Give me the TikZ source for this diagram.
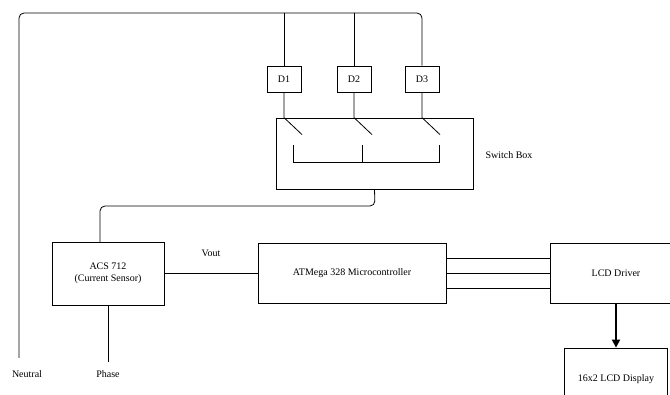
\documentclass[tikz,border=0pt]{standalone}
\usepackage{fontspec}
\setmainfont{Liberation Serif}
\usetikzlibrary{arrows.meta,positioning,calc}
\tikzset{
  blk/.style={draw, line width=0.8pt, align=center, inner sep=2pt},
  wire/.style={line width=0.8pt}
}

\begin{document}
\begin{tikzpicture}[x=1pt, y=-1pt, font=\fontsize{10}{11.5}\selectfont]
\useasboundingbox (0,0) rectangle (670,395);

% loads
\foreach \n/\x in {1/284,2/354,3/422}{
  \node[blk, minimum width=34pt, minimum height=26pt] (d\n) at (\x,79) {D\n};
}
\node[blk, minimum width=197pt, minimum height=71pt] (sw) at (374.5,153.5) {};
\node[anchor=west] (swlabel) at (482,155) {Switch Box};

% sensor, controller, display
\node[blk, minimum width=112pt, minimum height=63pt] (acs) at (108,273.5) {ACS 712\\(Current Sensor)};
\node[blk, minimum width=188pt, minimum height=60pt] (mcu) at (352,273) {ATMega 328 Microcontroller};
\node[blk, minimum width=132pt, minimum height=60pt] (drv) at (616,273) {LCD Driver};
\node[blk, minimum width=103pt, minimum height=62pt] (lcd) at (616,379) {16x2 LCD Display};

\node (neutral) at (27,374) {Neutral};
\node (phase) at (108,374) {Phase};

% neutral line over the top
\coordinate (nbot) at (19,358);
\draw[wire, rounded corners=5pt] (nbot) -- (19,13) -- (d3.north |- 0,13) -- (d3.north);
\foreach \n in {1,2}{
  \draw[wire] (d\n.north |- 0,13) -- (d\n.north);
}

% switches
\foreach \n in {1,2,3}{
  \draw[wire] (d\n.south) -- (d\n.south |- sw.north) -- ++(18,17);
}
\draw[wire] (293,145) -- (293,162) -- (439,162) -- (439,145);
\draw[wire] (362,145) -- (362,162);

% switch box to sensor
\draw[wire, rounded corners=5pt] (sw.south) -- (375,206) -- (100,206) -- (100,242);

\draw[wire] (acs.east) -- node[midway, above=13pt] {Vout} (acs.east -| mcu.west);
\draw[wire] (acs.south) -- (acs.south |- 0,362);

% bus lines
\foreach \dy in {-15,0,15}{
  \draw[wire] ([yshift=\dy pt]mcu.east) -- ([yshift=\dy pt]drv.west);
}

\draw[line width=1.8pt, -{Triangle[length=8pt, width=8pt]}] (drv.south) -- (lcd.north);
\end{tikzpicture}
\end{document}
